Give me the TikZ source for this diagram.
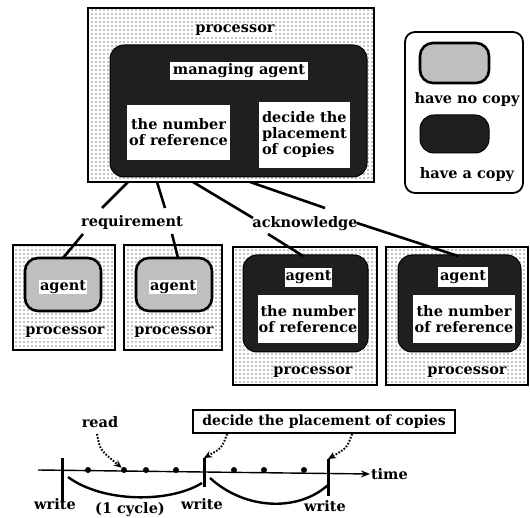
\documentclass[tikz,border=0pt]{standalone}
\usepackage{fontspec}
\setmainfont{DejaVu Serif}
\usetikzlibrary{patterns,arrows.meta}
\pgfdeclarepatternformonly{sparsedots}{\pgfqpoint{-1pt}{-1pt}}{\pgfqpoint{1pt}{1pt}}{\pgfqpoint{4pt}{4pt}}{\pgfpathcircle{\pgfqpoint{0pt}{0pt}}{0.6pt}\pgfusepath{fill}}
\begin{document}
\begin{tikzpicture}[x=1pt,y=-1pt,
  txt/.style={font=\fontsize{14.5}{16}\selectfont\bfseries, inner sep=0.8pt, align=center},
  wtxt/.style={txt, fill=white},
  procbox/.style={draw, line width=2.6pt, pattern=sparsedots, pattern color=black, inner sep=0pt},
  darkag/.style={draw, line width=1pt, fill=black!88, rounded corners=14pt, inner sep=0pt},
  lightag/.style={draw, line width=2.6pt, fill=gray!50, rounded corners=13pt, inner sep=0pt},
  conn/.style={line width=2.6pt},
  tick/.style={line width=3pt},
  dotarr/.style={line width=2pt, dash pattern=on 1.6pt off 1.6pt, -{Stealth[length=8pt,width=7pt]}},
  tdot/.style={circle, fill=black, inner sep=0pt, minimum size=6pt}]
\useasboundingbox (0,0) rectangle (530,518);
% ---------- main processor ----------
\node[procbox, minimum width=286pt, minimum height=174pt] (P) at (231,95) {};
\node[wtxt] (Plbl) at (235,30) {processor};
\node[darkag, minimum width=257pt, minimum height=132pt] (M) at (238.5,111) {};
\node[wtxt, minimum width=138pt, minimum height=18pt] (mgr) at (239,71) {managing agent};
\node[wtxt, minimum width=103pt, minimum height=55pt] (num) at (178.5,132.5) {the number\\of reference};
\node[wtxt, minimum width=91pt, minimum height=66pt, align=left] (dec) at (304.5,135) {decide the\\placement\\of copies};
% ---------- legend ----------
\node[draw, line width=1.8pt, rounded corners=10pt, minimum width=118pt, minimum height=161pt] (L) at (464,112.5) {};
\node[lightag, minimum width=69pt, minimum height=40pt] (LA) at (454.5,63) {};
\node[txt] (LAt) at (467,100) {have no copy};
\node[darkag, minimum width=69pt, minimum height=38pt] (LB) at (454.5,134) {};
\node[txt] (LBt) at (467,175) {have a copy};
% ---------- lower processors ----------
\node[procbox, minimum width=102pt, minimum height=105pt] (B1) at (64,297.5) {};
\node[lightag, minimum width=76pt, minimum height=53pt] (A1) at (63,284.5) {};
\node[wtxt] (A1t) at (63,287) {agent};
\node[wtxt] (B1t) at (65,332) {processor};
\node[procbox, minimum width=98pt, minimum height=105pt] (B2) at (173,297.5) {};
\node[lightag, minimum width=76pt, minimum height=53pt] (A2) at (174,284.5) {};
\node[wtxt] (A2t) at (173,287) {agent};
\node[wtxt] (B2t) at (174,332) {processor};
\node[procbox, minimum width=144pt, minimum height=138pt] (B3) at (305,316) {};
\node[darkag, minimum width=125pt, minimum height=97pt] (D3) at (305.5,303.5) {};
\node[wtxt, minimum width=47pt, minimum height=19pt] (A3t) at (308.5,277.5) {agent};
\node[wtxt, minimum width=100pt, minimum height=48pt] (N3) at (308,319) {the number\\of reference};
\node[wtxt] (B3t) at (313,372) {processor};
\node[procbox, minimum width=142pt, minimum height=138pt] (B4) at (457,316) {};
\node[darkag, minimum width=123pt, minimum height=97pt] (D4) at (459.5,303.5) {};
\node[wtxt, minimum width=50pt, minimum height=20pt] (A4t) at (463,277) {agent};
\node[wtxt, minimum width=102pt, minimum height=48pt] (N4) at (464,319) {the number\\of reference};
\node[wtxt] (B4t) at (467,372) {processor};
% ---------- message labels and connectors ----------
\node[txt] (req) at (132,223) {requirement};
\node[txt] (ack) at (305,224) {acknowledge};
\coordinate (s1) at (128,182); \coordinate (r1) at (102,208);
\coordinate (q1) at (83,234);  \coordinate (e1) at (63,258);
\coordinate (s2) at (157,182); \coordinate (r2) at (165,208);
\coordinate (q2) at (172,234); \coordinate (e2) at (178,258);
\coordinate (s3) at (193,182); \coordinate (r3) at (253,218);
\coordinate (q3) at (268,234); \coordinate (e3) at (303,256);
\coordinate (s4) at (250,182); \coordinate (r4) at (325,208);
\coordinate (q4) at (357,223); \coordinate (e4) at (458,256);
\draw[conn] (s1) -- (r1); \draw[conn] (q1) -- (e1);
\draw[conn] (s2) -- (r2); \draw[conn] (q2) -- (e2);
\draw[conn] (s3) -- (r3); \draw[conn] (q3) -- (e3);
\draw[conn] (s4) -- (r4); \draw[conn] (q4) -- (e4);
% ---------- time line ----------
\coordinate (t0) at (38,470);
\node[txt, anchor=west] (time) at (370,474) {time};
\draw[line width=1.4pt, -{Stealth[length=9pt,width=7pt]}] (t0) -- (time.west);
\coordinate (w1a) at (62,458); \coordinate (w1b) at (62,502);
\coordinate (w2a) at (204,458); \coordinate (w2b) at (204,487);
\coordinate (w3a) at (328,459); \coordinate (w3b) at (328,496);
\draw[tick] (w1a) -- (w1b);
\draw[tick] (w2a) -- (w2b);
\draw[tick] (w3a) -- (w3b);
\foreach \i/\x in {1/88,2/124,3/146,4/176,5/234,6/264,7/304} \node[tdot] (d\i) at (\x,470) {};
\coordinate (c1a) at (68,477); \coordinate (c1b) at (202,483);
\coordinate (c2a) at (210,478); \coordinate (c2b) at (328,485);
\draw[line width=2.4pt] (c1a) .. controls (103,503) and (170,503) .. (c1b);
\draw[line width=2.4pt] (c2a) .. controls (245,510) and (298,512) .. (c2b);
\node[txt] (wr1) at (55,504) {write};
\node[txt] (wr2) at (202,504) {write};
\node[txt] (wr3) at (325,506) {write};
\node[txt] (cyc) at (130,510) {(1 cycle)};
\node[txt] (read) at (100,422) {read};
\draw[dotarr] (97,434) .. controls (100,450) .. (d2.north west);
\node[txt, font=\fontsize{14}{15}\selectfont\bfseries, draw, line width=1.6pt, minimum width=262pt, minimum height=23pt, inner sep=1.5pt] (dcp) at (324,421.5) {decide the placement of copies};
\draw[dotarr] (227,434) .. controls (222,448) .. (w2a);
\draw[dotarr] (352,434) .. controls (347,448) .. (w3a);
\end{tikzpicture}
\end{document}
